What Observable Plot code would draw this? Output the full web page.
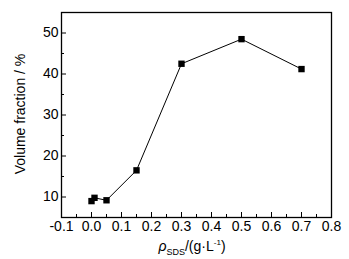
<!DOCTYPE html>
<html><head><meta charset="utf-8">
<script src="https://cdn.jsdelivr.net/npm/d3@7"></script>
<script src="https://cdn.jsdelivr.net/npm/@observablehq/plot@0.6"></script>
<style>
body{margin:0;background:#fff;}
svg{font-family:"Liberation Sans",Arial,sans-serif;}
</style></head>
<body><div id="chart"></div>
<script>
const concentration = [0, 0.01, 0.05, 0.15, 0.3, 0.5, 0.7];
const volumeFraction = [9.0, 9.8, 9.2, 16.5, 42.5, 48.5, 41.2];
const xTicks = [-0.1, 0.0, 0.1, 0.2, 0.3, 0.4, 0.5, 0.6, 0.7, 0.8];
const xTickLabels = ["-0.1","0.0","0.1","0.2","0.3","0.4","0.5","0.6","0.7","0.8"];
const xMinor = [-0.05, 0.05, 0.15, 0.25, 0.35, 0.45, 0.55, 0.65, 0.75];
const yTicks = [10, 20, 30, 40, 50];
const yMinor = [5, 15, 25, 35, 45, 55];
const yLabel = "Volume fraction / %";

const data = concentration.map((c, i) => ({x: c, y: volumeFraction[i]}));

const plot = Plot.plot({
  width: 349, height: 259,
  marginLeft: 61, marginRight: 18, marginTop: 12, marginBottom: 42,
  style: {fontFamily: "Liberation Sans, Arial, sans-serif", fontSize: "14px", color: "#000", background: "#fff"},
  x: {domain: [-0.1, 0.8]},
  y: {domain: [5, 55]},
  marks: [
    Plot.axisX(xTicks, {tickSize: -5, text: null, label: null, stroke: "#000"}),
    Plot.axisX(xMinor, {tickSize: -3, text: null, label: null, stroke: "#000"}),
    Plot.axisX(xTicks, {tickSize: 0, tickPadding: 4, label: null, tickFormat: (d, i) => xTickLabels[i], fontSize: 14, fill: "#000"}),
    Plot.axisY(yTicks, {tickSize: -5, text: null, label: null, stroke: "#000"}),
    Plot.axisY(yMinor, {tickSize: -3, text: null, label: null, stroke: "#000"}),
    Plot.axisY(yTicks, {tickSize: 0, tickPadding: 3, label: null, fontSize: 14, fill: "#000"}),
    Plot.frame({stroke: "#000", strokeWidth: 1.3}),
    Plot.line(data, {x: "x", y: "y", stroke: "#000", strokeWidth: 1}),
    Plot.dot(data, {x: "x", y: "y", symbol: "square", r: 3.6, fill: "#000", stroke: "none"})
  ]
});
document.getElementById("chart").appendChild(plot);

const svg = d3.select(plot);
const xl = svg.append("text")
  .attr("x", 192).attr("y", 251)
  .attr("text-anchor", "middle")
  .attr("font-size", 14).attr("fill", "#000");
xl.append("tspan").attr("font-style", "italic").text("ρ");
xl.append("tspan").attr("font-size", 9).attr("dy", 4).text("SDS");
xl.append("tspan").attr("dy", -4).text("/(g·L");
xl.append("tspan").attr("font-size", 8).attr("dy", -6).text("-1");
xl.append("tspan").attr("dy", 6).text(")");

svg.append("text")
  .attr("transform", "translate(25,114) rotate(-90)")
  .attr("text-anchor", "middle")
  .attr("font-size", 14).attr("fill", "#000")
  .text(yLabel);
</script></body></html>
